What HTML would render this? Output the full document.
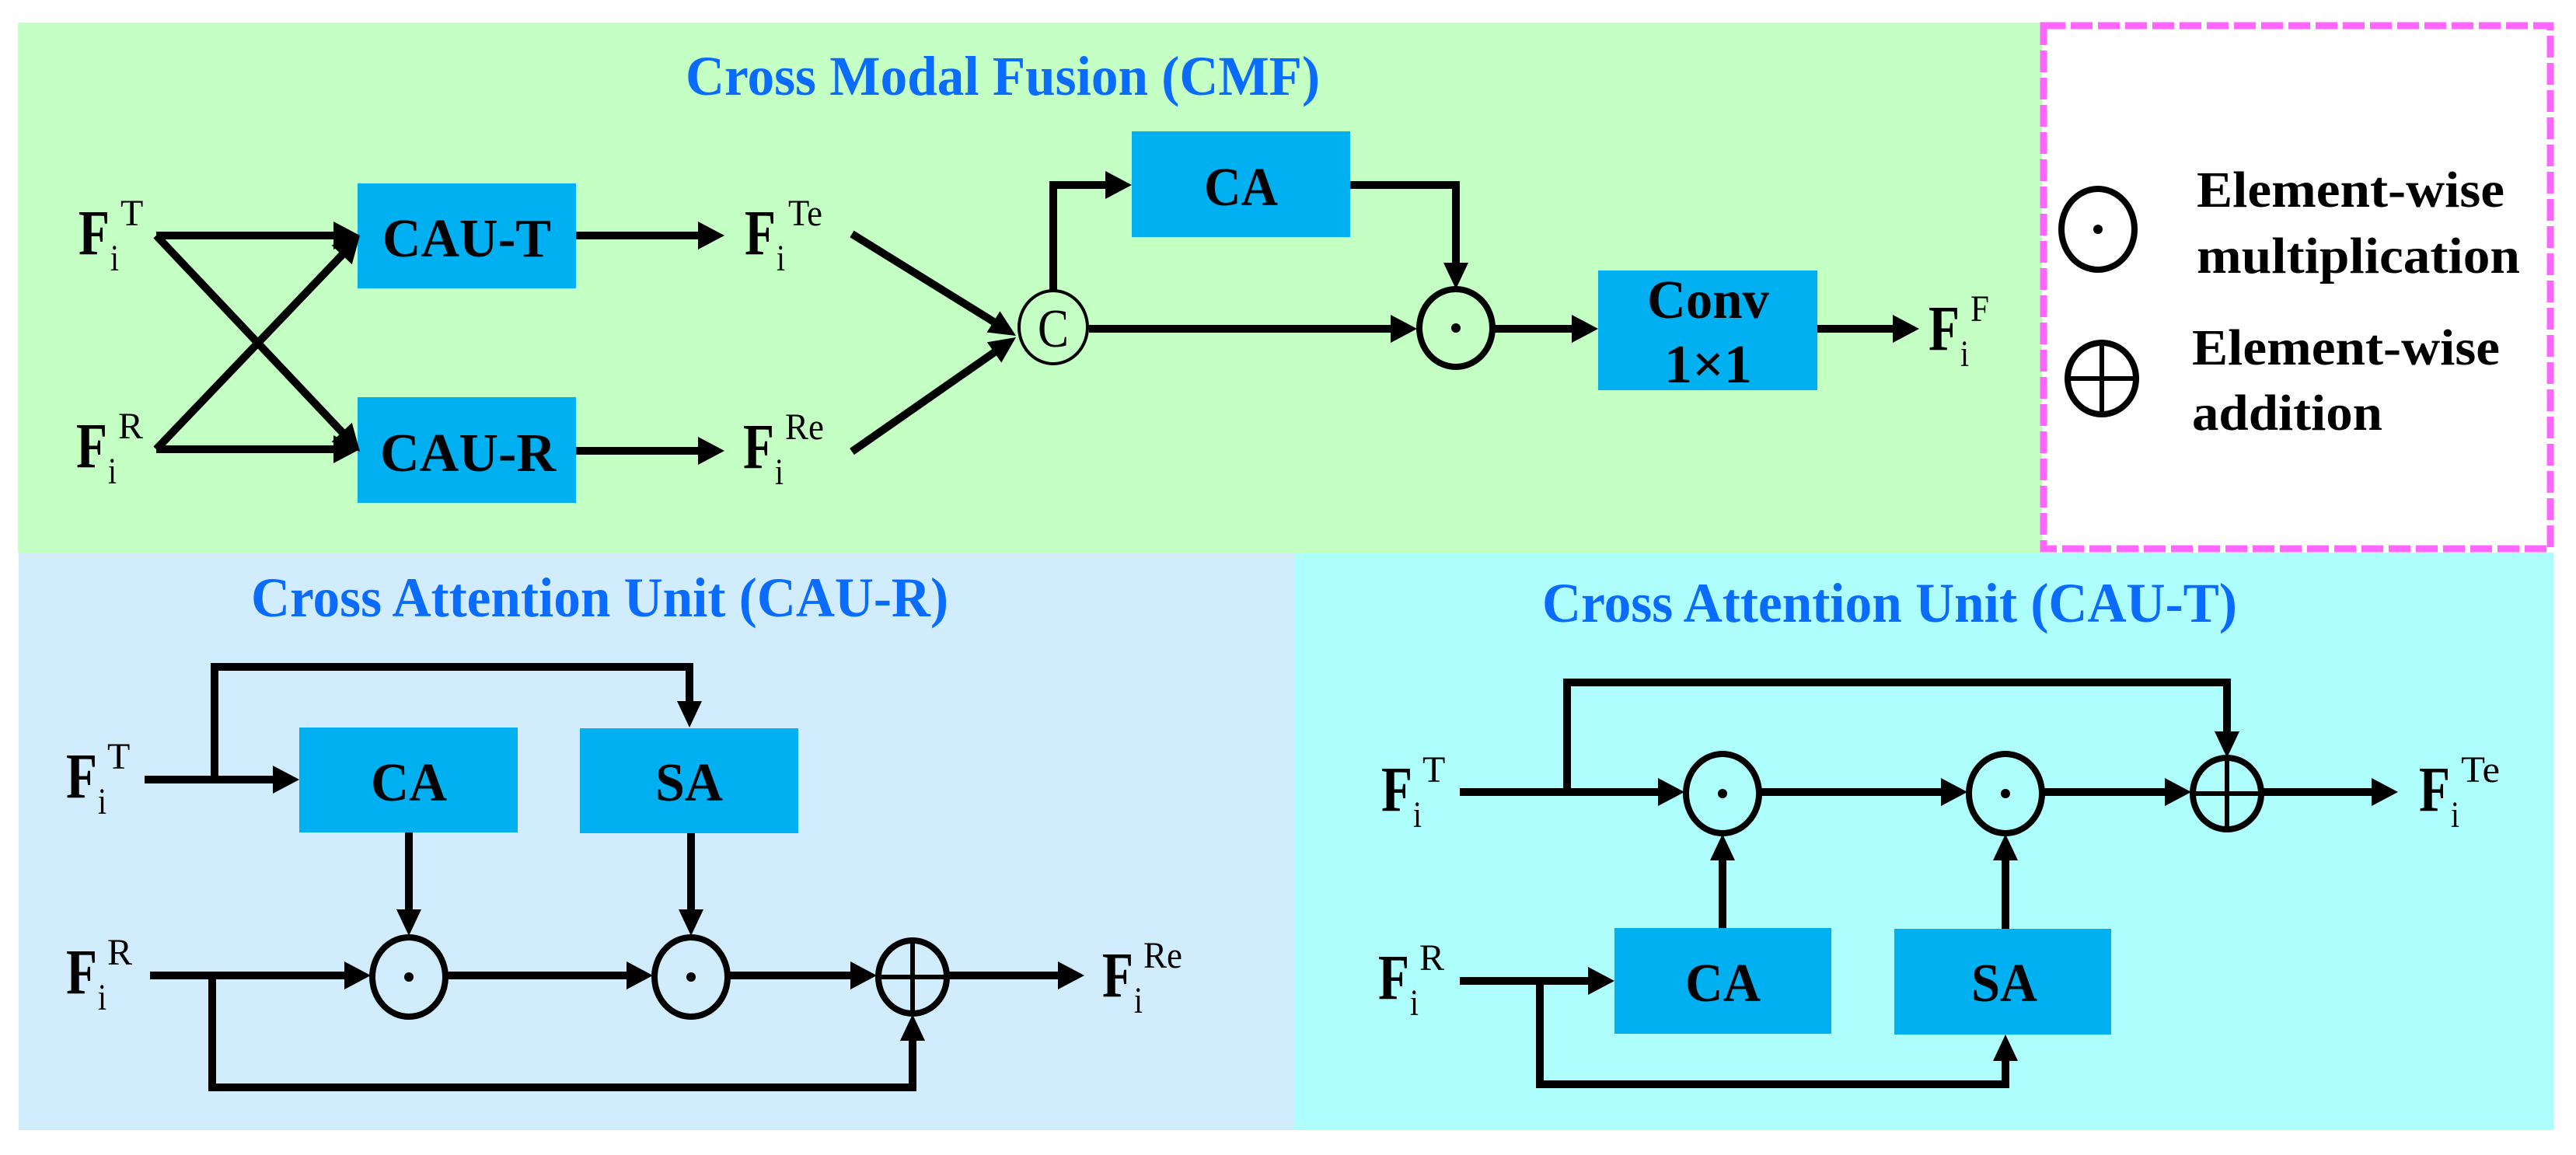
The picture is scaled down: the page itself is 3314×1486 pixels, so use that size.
<!DOCTYPE html>
<html><head><meta charset="utf-8"><style>html,body{margin:0;padding:0;background:#fff}svg{display:block}</style></head>
<body>
<svg width="3314" height="1486" viewBox="0 0 3314 1486" xmlns="http://www.w3.org/2000/svg" font-family="'Liberation Serif', serif">
<rect x="0" y="0" width="3314" height="1486" fill="#fff"/>
<rect x="23" y="29" width="2604" height="682" fill="#c4ffc4"/>
<rect x="24" y="711" width="1641" height="743" fill="#d1ecfc"/>
<rect x="1665" y="711" width="1620" height="743" fill="#affefe"/>
<rect x="2629" y="33" width="652" height="673" fill="#fff" stroke="#ff66ff" stroke-width="9" stroke-dasharray="28,7"/>

<g fill="#0a6cff" font-weight="bold" font-size="72">
<text x="882" y="122" textLength="816" lengthAdjust="spacingAndGlyphs">Cross Modal Fusion (CMF)</text>
<text x="323" y="793" textLength="897" lengthAdjust="spacingAndGlyphs">Cross Attention Unit (CAU-R)</text>
<text x="1984" y="800" textLength="894" lengthAdjust="spacingAndGlyphs">Cross Attention Unit (CAU-T)</text>
</g>

<g fill="#00b0f0">
<rect x="460" y="236" width="281" height="135"/>
<rect x="460" y="511" width="281" height="136"/>
<rect x="1456" y="169" width="281" height="136"/>
<rect x="2056" y="348" width="282" height="154"/>
<rect x="385" y="936" width="281" height="135"/>
<rect x="746" y="937" width="281" height="135"/>
<rect x="2077" y="1194" width="279" height="136"/>
<rect x="2437" y="1195" width="279" height="136"/>
</g>
<g fill="#000" font-weight="bold" font-size="70">
<text x="492" y="330" textLength="217" lengthAdjust="spacingAndGlyphs">CAU-T</text>
<text x="489" y="606" textLength="226" lengthAdjust="spacingAndGlyphs">CAU-R</text>
<text x="1549" y="264" textLength="95" lengthAdjust="spacingAndGlyphs">CA</text>
<text x="2119" y="409" textLength="157" lengthAdjust="spacingAndGlyphs">Conv</text>
<text x="2141" y="492" textLength="113" lengthAdjust="spacingAndGlyphs">1×1</text>
<text x="477" y="1030" textLength="98" lengthAdjust="spacingAndGlyphs">CA</text>
<text x="843" y="1030" textLength="87" lengthAdjust="spacingAndGlyphs">SA</text>
<text x="2168" y="1288" textLength="97" lengthAdjust="spacingAndGlyphs">CA</text>
<text x="2536" y="1288" textLength="85" lengthAdjust="spacingAndGlyphs">SA</text>
</g>

<g fill="#000" font-weight="bold" font-size="66">
<text x="2826" y="266" textLength="396" lengthAdjust="spacingAndGlyphs">Element-wise</text>
<text x="2826" y="351" textLength="416" lengthAdjust="spacingAndGlyphs">multiplication</text>
<text x="2820" y="469" textLength="396" lengthAdjust="spacingAndGlyphs">Element-wise</text>
<text x="2820" y="553" textLength="245" lengthAdjust="spacingAndGlyphs">addition</text>
</g>

<g fill="#000">
<g font-size="83" font-weight="bold">
<text x="101" y="327" textLength="40" lengthAdjust="spacingAndGlyphs">F</text>
<text x="98" y="601" textLength="40" lengthAdjust="spacingAndGlyphs">F</text>
<text x="958" y="327" textLength="40" lengthAdjust="spacingAndGlyphs">F</text>
<text x="956" y="602" textLength="40" lengthAdjust="spacingAndGlyphs">F</text>
<text x="2481" y="450" textLength="40" lengthAdjust="spacingAndGlyphs">F</text>
<text x="85" y="1026" textLength="40" lengthAdjust="spacingAndGlyphs">F</text>
<text x="85" y="1278" textLength="40" lengthAdjust="spacingAndGlyphs">F</text>
<text x="1418" y="1282" textLength="40" lengthAdjust="spacingAndGlyphs">F</text>
<text x="1777" y="1043" textLength="40" lengthAdjust="spacingAndGlyphs">F</text>
<text x="1773" y="1285" textLength="40" lengthAdjust="spacingAndGlyphs">F</text>
<text x="3112" y="1043" textLength="40" lengthAdjust="spacingAndGlyphs">F</text>
</g>
<g font-size="48">
<text x="155" y="290">T</text><text x="142" y="348" textLength="11" lengthAdjust="spacingAndGlyphs">i</text>
<text x="152" y="564">R</text><text x="139" y="622" textLength="11" lengthAdjust="spacingAndGlyphs">i</text>
<text x="1014" y="290" textLength="44" lengthAdjust="spacingAndGlyphs">Te</text><text x="999" y="348" textLength="11" lengthAdjust="spacingAndGlyphs">i</text>
<text x="1010" y="565" textLength="50" lengthAdjust="spacingAndGlyphs">Re</text><text x="997" y="623" textLength="11" lengthAdjust="spacingAndGlyphs">i</text>
<text x="2535" y="413" textLength="24" lengthAdjust="spacingAndGlyphs">F</text><text x="2522" y="471" textLength="11" lengthAdjust="spacingAndGlyphs">i</text>
<text x="138" y="989">T</text><text x="126" y="1047" textLength="11" lengthAdjust="spacingAndGlyphs">i</text>
<text x="138" y="1241">R</text><text x="126" y="1299" textLength="11" lengthAdjust="spacingAndGlyphs">i</text>
<text x="1471" y="1245" textLength="50" lengthAdjust="spacingAndGlyphs">Re</text><text x="1459" y="1303" textLength="11" lengthAdjust="spacingAndGlyphs">i</text>
<text x="1830" y="1006">T</text><text x="1818" y="1064" textLength="11" lengthAdjust="spacingAndGlyphs">i</text>
<text x="1826" y="1248">R</text><text x="1814" y="1306" textLength="11" lengthAdjust="spacingAndGlyphs">i</text>
<text x="3166" y="1006" textLength="50" lengthAdjust="spacingAndGlyphs">Te</text><text x="3153" y="1064" textLength="11" lengthAdjust="spacingAndGlyphs">i</text>
</g>
</g>

<g stroke="#000" stroke-width="10" fill="none" stroke-linejoin="miter">
<line x1="201" y1="303" x2="432" y2="303"/>
<line x1="201" y1="578" x2="432" y2="578"/>
<line x1="201" y1="303" x2="442" y2="558"/>
<line x1="201" y1="578" x2="442" y2="326"/>
<line x1="741" y1="303" x2="900" y2="303"/>
<line x1="741" y1="580" x2="900" y2="580"/>
<line x1="1096" y1="301" x2="1280" y2="415"/>
<line x1="1096" y1="581" x2="1281" y2="452"/>
<polyline points="1355,375 1355,238 1424,238"/>
<line x1="1401" y1="423" x2="1791" y2="423"/>
<polyline points="1737,238 1873,238 1873,340"/>
<line x1="1923" y1="423" x2="2024" y2="423"/>
<line x1="2338" y1="423" x2="2437" y2="423"/>
<line x1="186" y1="1003" x2="353" y2="1003"/>
<polyline points="276,1003 276,858 887,858 887,904"/>
<line x1="193" y1="1255" x2="445" y2="1255"/>
<line x1="575" y1="1255" x2="808" y2="1255"/>
<line x1="938" y1="1255" x2="1096" y2="1255"/>
<line x1="526" y1="1071" x2="526" y2="1172"/>
<line x1="889" y1="1072" x2="889" y2="1172"/>
<polyline points="273,1255 273,1399 1174,1399 1174,1337"/>
<line x1="1220" y1="1255" x2="1363" y2="1255"/>
<line x1="1878" y1="1019" x2="2135" y2="1019"/>
<polyline points="2016,1019 2016,878 2865,878 2865,943"/>
<line x1="2265" y1="1019" x2="2499" y2="1019"/>
<line x1="2629" y1="1019" x2="2787" y2="1019"/>
<line x1="2911" y1="1019" x2="3053" y2="1019"/>
<line x1="1878" y1="1262" x2="2045" y2="1262"/>
<polyline points="1981,1262 1981,1395 2580,1395 2580,1363"/>
<line x1="2216" y1="1194" x2="2216" y2="1105"/>
<line x1="2580" y1="1195" x2="2580" y2="1105"/>
</g>

<g fill="#000">
<polygon points="429,285 463,303 429,321"/>
<polygon points="429,560 463,578 429,596"/>
<polygon points="452.8,543.9 426.6,568.5 463,581"/>
<polygon points="452.8,340.1 426.6,315.5 463,303"/>
<polygon points="898,285 932,303 898,321"/>
<polygon points="898,562 932,580 898,598"/>
<polygon points="1269.6,427.6 1286.4,400.4 1307,432"/>
<polygon points="1288.3,466.5 1269.9,440.3 1307,434"/>
<polygon points="1422,220 1456,238 1422,256"/>
<polygon points="1789,405 1823,423 1789,441"/>
<polygon points="1857,338 1873,372 1889,338"/>
<polygon points="2022,405 2056,423 2022,441"/>
<polygon points="2435,405 2469,423 2435,441"/>
<polygon points="351,985 385,1003 351,1021"/>
<polygon points="871,902 887,936 903,902"/>
<polygon points="443,1237 477,1255 443,1273"/>
<polygon points="806,1237 840,1255 806,1273"/>
<polygon points="1094,1237 1128,1255 1094,1273"/>
<polygon points="510,1170 526,1204 542,1170"/>
<polygon points="873,1170 889,1204 905,1170"/>
<polygon points="1158,1339 1174,1305 1190,1339"/>
<polygon points="1361,1237 1395,1255 1361,1273"/>
<polygon points="2133,1001 2167,1019 2133,1037"/>
<polygon points="2849,941 2865,975 2881,941"/>
<polygon points="2497,1001 2531,1019 2497,1037"/>
<polygon points="2785,1001 2819,1019 2785,1037"/>
<polygon points="3051,1001 3085,1019 3051,1037"/>
<polygon points="2043,1244 2077,1262 2043,1280"/>
<polygon points="2564,1365 2580,1331 2596,1365"/>
<polygon points="2200,1107 2216,1073 2232,1107"/>
<polygon points="2564,1107 2580,1073 2596,1107"/>
</g>

<g stroke="#000" fill="none">
<ellipse cx="1355" cy="421" rx="44" ry="47" stroke-width="4"/>
<ellipse cx="1873" cy="422" rx="47" ry="50" stroke-width="8"/>
<ellipse cx="2699" cy="295" rx="47" ry="52" stroke-width="8"/>
<ellipse cx="2704" cy="487" rx="44" ry="46" stroke-width="8"/>
<line x1="2704" y1="441" x2="2704" y2="533" stroke-width="6"/>
<line x1="2660" y1="487" x2="2748" y2="487" stroke-width="6"/>
<ellipse cx="526" cy="1257" rx="47" ry="51" stroke-width="8"/>
<ellipse cx="889" cy="1257" rx="47" ry="51" stroke-width="8"/>
<ellipse cx="1174" cy="1257" rx="44" ry="47" stroke-width="8"/>
<line x1="1174" y1="1210" x2="1174" y2="1304" stroke-width="6"/>
<line x1="1130" y1="1257" x2="1218" y2="1257" stroke-width="6"/>
<ellipse cx="2216" cy="1021" rx="47" ry="51" stroke-width="8"/>
<ellipse cx="2580" cy="1021" rx="47" ry="51" stroke-width="8"/>
<ellipse cx="2865" cy="1021" rx="44" ry="46" stroke-width="8"/>
<line x1="2865" y1="975" x2="2865" y2="1067" stroke-width="6"/>
<line x1="2821" y1="1021" x2="2909" y2="1021" stroke-width="6"/>
</g>
<g fill="#000">
<circle cx="1873" cy="422" r="6"/>
<circle cx="2699" cy="295" r="6"/>
<circle cx="526" cy="1257" r="6"/>
<circle cx="889" cy="1257" r="6"/>
<circle cx="2216" cy="1021" r="6"/>
<circle cx="2580" cy="1021" r="6"/>
<text x="1355" y="446" font-size="70" text-anchor="middle" textLength="40" lengthAdjust="spacingAndGlyphs">C</text>
</g>
</svg>
</body></html>
